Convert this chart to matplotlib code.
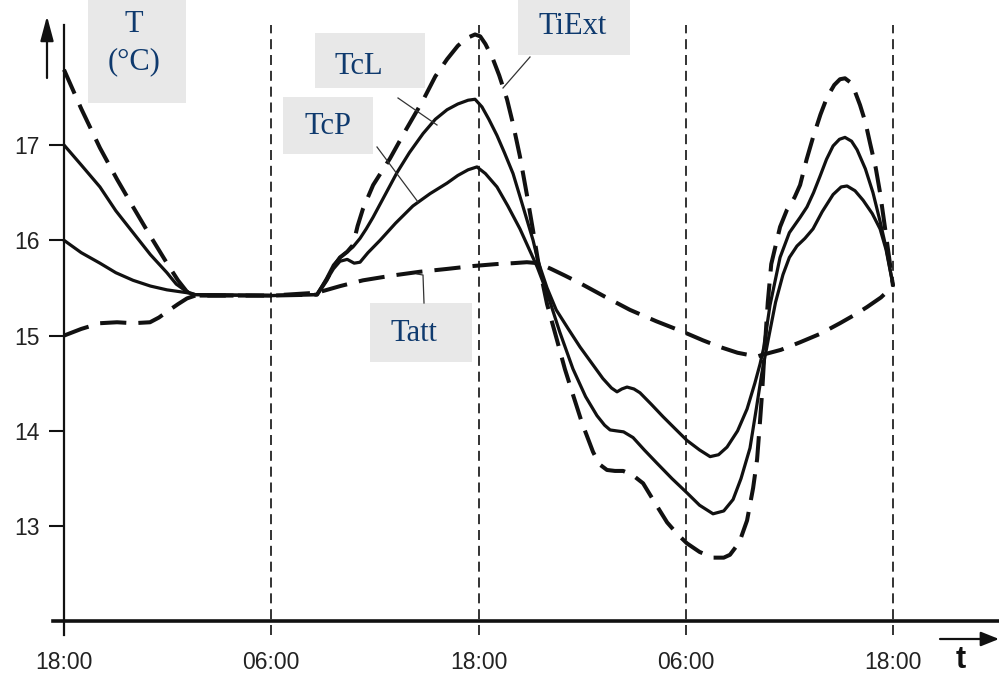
import matplotlib
matplotlib.use("Agg")
import matplotlib.pyplot as plt
from matplotlib.patches import Rectangle
from matplotlib import font_manager

# ---------------- data (hours since first 18:00, temperature in °C) ----------------
tiext_h = [0, 1.0, 2.08, 3.07, 4.0, 4.98, 5.96, 6.6, 7.12, 7.6, 12, 14.65, 15.2, 15.6, 15.98,
           16.4, 16.73, 17.0, 17.31, 17.9, 18.88, 19.8, 20.79, 21.5, 22.18, 22.8, 23.3, 23.8,
           24.1, 24.4, 24.84, 25.2, 25.65, 26.0, 26.4, 26.8, 27.16, 27.45, 27.97, 28.55, 29.0,
           29.47, 30.0, 30.63, 31.0, 31.44, 31.9, 32.37, 32.9, 33.53, 34.2, 34.92, 35.5, 36.07,
           36.8, 37.58, 38.2, 38.56, 39.1, 39.55, 39.9, 40.13, 40.3, 40.42, 40.55, 40.75, 40.95,
           41.46, 41.86, 42.3, 42.62, 43.0, 43.37, 43.8, 44.18, 44.6, 44.93, 45.22, 45.51, 45.8,
           46.09, 46.4, 46.67, 47.0, 47.25, 47.6, 48.0]
tiext_v = [17.79, 17.38, 16.97, 16.64, 16.35, 16.05, 15.76, 15.58, 15.46, 15.42, 15.42, 15.43,
           15.58, 15.72, 15.82, 15.88, 15.95, 16.15, 16.33, 16.58, 16.86, 17.16, 17.47, 17.72,
           17.90, 18.04, 18.12, 18.16, 18.14, 18.06, 17.90, 17.73, 17.48, 17.22, 16.88, 16.48,
           16.10, 15.78, 15.33, 14.95, 14.65, 14.38, 14.08, 13.78, 13.65, 13.59, 13.58, 13.58,
           13.54, 13.45, 13.25, 13.04, 12.92, 12.82, 12.73, 12.67, 12.67, 12.70, 12.83, 13.06,
           13.40, 13.70, 14.10, 14.40, 14.80, 15.35, 15.75, 16.14, 16.32, 16.45, 16.58, 16.85,
           17.08, 17.32, 17.50, 17.63, 17.69, 17.70, 17.66, 17.56, 17.42, 17.24, 17.02, 16.76,
           16.50, 16.05, 15.52]

tcl_h = [0, 1.0, 2.08, 3.0, 4.0, 5.0, 5.96, 6.5, 7.12, 7.6, 12, 14.65, 15.2, 15.6, 15.98, 16.4,
         16.73, 17.14, 17.5, 17.89, 18.6, 19.28, 20.0, 20.79, 21.5, 22.18, 22.8, 23.4, 23.8,
         24.2, 24.6, 25.07, 25.5, 26.0, 26.5, 27.16, 27.45, 27.97, 28.5, 29.2, 29.88, 30.6,
         31.2, 31.7, 32.02, 32.3, 32.6, 33.0, 33.35, 34.0, 34.68, 35.4, 36.07, 36.8, 37.41,
         37.9, 38.39, 39.0, 39.55, 40.0, 40.3, 40.5, 40.88, 41.46, 42.0, 42.62, 43.02, 43.4,
         43.77, 44.15, 44.53, 44.9, 45.22, 45.6, 45.92, 46.4, 46.84, 47.25, 47.6, 48.0]
tcl_v = [17.0, 16.79, 16.56, 16.31, 16.08, 15.85, 15.66, 15.54, 15.46, 15.43, 15.42, 15.43,
         15.60, 15.74, 15.82, 15.88, 15.93, 16.02, 16.12, 16.24, 16.48, 16.71, 16.92, 17.12,
         17.27, 17.37, 17.43, 17.47, 17.48, 17.40, 17.27, 17.10, 16.92, 16.70, 16.40, 16.00,
         15.78, 15.50, 15.27, 15.07, 14.88, 14.70, 14.55, 14.45, 14.41, 14.44, 14.46, 14.44,
         14.40, 14.28, 14.15, 14.02, 13.90, 13.80, 13.73, 13.75, 13.83, 14.00, 14.23, 14.50,
         14.70, 14.86, 15.32, 15.82, 16.08, 16.24, 16.35, 16.50, 16.67, 16.85, 16.99, 17.06,
         17.08, 17.04, 16.95, 16.75, 16.50, 16.20, 15.92, 15.53]

tcp_h = [0, 1.0, 2.08, 3.0, 4.0, 5.0, 5.96, 7.12, 7.6, 12, 14.65, 15.2, 15.6, 15.98, 16.4,
         16.8, 17.14, 17.6, 18.3, 19.2, 20.2, 21.2, 22.18, 22.8, 23.4, 23.91, 24.4, 25.07,
         25.7, 26.4, 26.9, 27.4, 27.97, 28.7, 29.47, 30.2, 30.86, 31.3, 31.62, 32.0, 32.4,
         32.95, 33.6, 34.34, 35.2, 36.07, 36.8, 37.58, 38.2, 38.74, 39.2, 39.72, 40.1, 40.4,
         40.8, 41.2, 41.63, 42.0, 42.44, 42.9, 43.37, 43.9, 44.53, 45.0, 45.34, 45.8, 46.27,
         46.8, 47.25, 47.6, 48.0]
tcp_v = [16.0, 15.87, 15.76, 15.66, 15.58, 15.52, 15.48, 15.45, 15.43, 15.42, 15.43, 15.58,
         15.70, 15.78, 15.80, 15.76, 15.77, 15.87, 16.00, 16.18, 16.36, 16.49, 16.60, 16.68,
         16.74, 16.77, 16.70, 16.56, 16.36, 16.12, 15.92, 15.72, 15.45, 15.04, 14.65, 14.36,
         14.16, 14.06, 14.01, 14.00, 13.99, 13.93, 13.80, 13.66, 13.50, 13.35, 13.22, 13.13,
         13.16, 13.28, 13.50, 13.82, 14.25, 14.60, 14.98, 15.35, 15.64, 15.82, 15.94, 16.02,
         16.12, 16.30, 16.48, 16.56, 16.57, 16.52, 16.42, 16.28, 16.12, 15.90, 15.53]

tatt_h = [0, 1.0, 2.08, 3.07, 4.0, 4.98, 5.5, 5.96, 6.6, 7.12, 7.6, 12, 14.65, 16.0, 17.31,
          19.0, 20.61, 22.2, 23.68, 25.0, 26.0, 26.8, 27.45, 28.2, 29.0, 29.88, 31.3, 32.77,
          34.3, 35.84, 37.0, 37.99, 39.0, 40.13, 40.47, 41.5, 42.62, 43.8, 44.93, 45.8, 46.5,
          47.3, 48.0]
tatt_v = [15.0, 15.07, 15.13, 15.14, 15.13, 15.14, 15.19, 15.25, 15.33, 15.39, 15.42, 15.42,
          15.45, 15.52, 15.58, 15.63, 15.67, 15.70, 15.73, 15.75, 15.76, 15.77, 15.76, 15.70,
          15.63, 15.55, 15.41, 15.27, 15.15, 15.04, 14.95, 14.88, 14.82, 14.78, 14.80, 14.85,
          14.93, 15.02, 15.13, 15.22, 15.30, 15.40, 15.52]

x_ticks = [0, 12, 24, 36, 48]
x_labels = ["18:00", "06:00", "18:00", "06:00", "18:00"]
y_ticks = [13, 14, 15, 16, 17]

# ---------------- fonts ----------------
names = {f.name for f in font_manager.fontManager.ttflist}
if "Liberation Sans Narrow" in names:
    sans, tick_size, t_size = "Liberation Sans Narrow", 19.5, 26
else:
    sans, tick_size, t_size = "Liberation Sans", 16.5, 22
serif = "Liberation Serif"
label_color = "#0f3a6e"
box_color = "#e8e8e8"

W, H = 999, 678
fig = plt.figure(figsize=(W / 100, H / 100), dpi=100)
ax = fig.add_axes([0, 0, 1, 1])

# pixel calibration -> data limits
px_per_h = (893 - 64) / 48.0
px_per_deg = 95.3
ax.set_xlim(-64 / px_per_h, (W - 64) / px_per_h)
ax.set_ylim(17 - (H - 145) / px_per_deg, 17 + 145 / px_per_deg)
ax.patch.set_alpha(0)

def hx(px):
    return (px - 64) / px_per_h

def vy(py):
    return 17 - (py - 145) / px_per_deg

# ---------------- curves ----------------
lc = "#111111"
ax.plot(tiext_h, tiext_v, color=lc, lw=2.9, dashes=(6.5, 3.0), zorder=4)
ax.plot(tatt_h, tatt_v, color=lc, lw=2.9, dashes=(6.5, 3.0), zorder=4)
ax.plot(tcl_h, tcl_v, color=lc, lw=2.3, zorder=5, solid_joinstyle="round")
ax.plot(tcp_h, tcp_v, color=lc, lw=2.3, zorder=5, solid_joinstyle="round")

# vertical dashed guide lines
for xt in x_ticks[1:]:
    ax.plot([xt, xt], [vy(635), vy(25)], color=lc, lw=1.2, dashes=(6, 3.5), zorder=3)

# ---------------- axes ----------------
for s in ["top", "right"]:
    ax.spines[s].set_visible(False)
ax.spines["left"].set_position(("data", 0))
ax.spines["bottom"].set_position(("data", 12.0))
ax.spines["left"].set_bounds(vy(635), vy(25))
ax.spines["bottom"].set_bounds(hx(53), hx(W + 5))
ax.spines["left"].set_linewidth(1.6)
ax.spines["bottom"].set_linewidth(2.6)
ax.spines["left"].set_color(lc)
ax.spines["bottom"].set_color(lc)

ax.set_yticks(y_ticks)
ax.set_yticklabels([str(v) for v in y_ticks], family=sans, size=tick_size, color="#222222")
ax.tick_params(axis="y", direction="out", length=11, width=1.5, pad=6.5, color=lc)
ax.set_xticks(x_ticks)
ax.set_xticklabels(x_labels, family=sans, size=tick_size, color="#222222")
ax.tick_params(axis="x", direction="out", length=0, pad=21)

# axis arrows
ax.annotate("", xy=(hx(47), vy(16)), xytext=(hx(47), vy(78)),
            arrowprops=dict(arrowstyle="-|>,head_length=0.75,head_width=0.2", lw=1.6,
                            color=lc, mutation_scale=20, shrinkA=0, shrinkB=0))
ax.annotate("", xy=(hx(999), vy(639)), xytext=(hx(940), vy(639)),
            arrowprops=dict(arrowstyle="-|>,head_length=0.55,head_width=0.22", lw=1.6,
                            color=lc, mutation_scale=20, shrinkA=0, shrinkB=0))
ax.text(hx(961), vy(660), "t", family=sans, weight="bold", size=t_size,
        ha="center", va="center", color=lc)

# ---------------- label boxes ----------------
def box(x0, y0, x1, y1):
    ax.add_patch(Rectangle((x0 / W, 1 - y1 / H), (x1 - x0) / W, (y1 - y0) / H,
                           transform=ax.transAxes, facecolor=box_color, edgecolor="none",
                           zorder=6))

def label(x, y, s):
    ax.text(x / W, 1 - y / H, s, transform=ax.transAxes, ha="center", va="center",
            family=serif, size=22, color=label_color, zorder=7)

def leader(pts):
    xs = [p[0] / W for p in pts]
    ys = [1 - p[1] / H for p in pts]
    ax.plot(xs, ys, transform=ax.transAxes, color="#333333", lw=0.9, zorder=6)

box(88, 0, 186, 103)
label(134, 24, "T")
label(134, 62, "(°C)")

box(518, 0, 630, 55)
label(573, 27, "TiExt")
leader([(530, 57), (503, 88)])

box(315, 33, 425, 88)
label(359, 66, "TcL")
leader([(398, 98), (437, 125)])

box(283, 97, 373, 154)
label(328, 127, "TcP")
leader([(377, 147), (418, 202)])

box(370, 303, 472, 362)
label(414, 334, "Tatt")
leader([(417, 274), (423, 275), (424, 303)])

fig.savefig("out.png", dpi=100)
